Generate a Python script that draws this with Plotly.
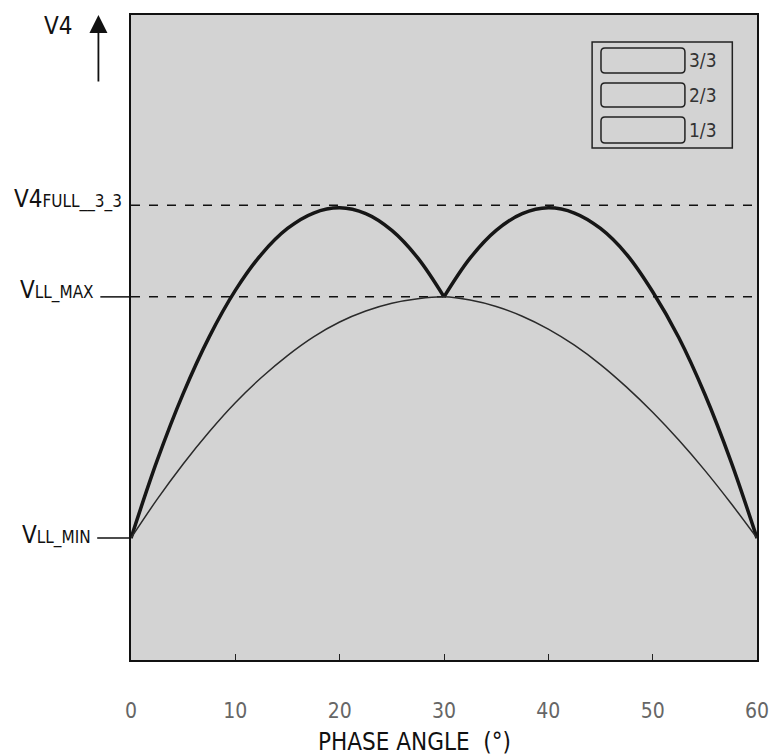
import plotly.graph_objects as go

# ---- data ----
phase_angle = [0, 2.5, 5, 7.5, 10, 12.5, 15, 17.5, 20, 22.5, 25, 27.5, 30,
               32.5, 35, 37.5, 40, 42.5, 45, 47.5, 50, 52.5, 55, 57.5, 60]
v4_3_3 = [18.9, 30.9, 41.3, 50.1, 57.3, 62.9, 66.9, 69.3, 70.1, 69.2, 66.6, 62.3, 56.3,
          62.3, 66.6, 69.2, 70.1, 69.3, 66.9, 62.9, 57.1, 50.0, 41.2, 30.8, 18.9]
v4_1_3 = [18.9, 24.9, 30.4, 35.4, 39.9, 43.8, 47.2, 50.1, 52.4, 54.1, 55.3, 56.0, 56.3,
          55.8, 54.8, 53.3, 51.3, 48.8, 45.8, 42.3, 38.4, 34.1, 29.4, 24.3, 18.9]

V4_FULL = 70.5
VLL_MAX = 56.3
VLL_MIN = 18.9

x_ticks = [0, 10, 20, 30, 40, 50, 60]
legend_labels = ["3/3", "2/3", "1/3"]

NARROW = "Liberation Sans Narrow, DejaVu Sans Condensed, Arial Narrow, sans-serif"
BG = "#d3d3d3"

fig = go.Figure()

# split at 30 deg to keep the sharp cusp
mid = phase_angle.index(30)
thick = dict(color="#161616", width=3.5, shape="spline", smoothing=1.0)
fig.add_trace(go.Scatter(x=phase_angle[:mid + 1], y=v4_3_3[:mid + 1], mode="lines",
                         line=thick, name="3/3", showlegend=False))
fig.add_trace(go.Scatter(x=phase_angle[mid:], y=v4_3_3[mid:], mode="lines",
                         line=thick, name="3/3", showlegend=False))
fig.add_trace(go.Scatter(x=phase_angle, y=v4_1_3, mode="lines",
                         line=dict(color="#2a2a2a", width=1.5, shape="spline", smoothing=1.0),
                         name="1/3", showlegend=False))

shapes = []
# dashed reference lines
for yv in (V4_FULL, VLL_MAX):
    shapes.append(dict(type="line", xref="paper", yref="y", x0=0, x1=1, y0=yv, y1=yv,
                       line=dict(color="#111", width=1.5, dash="dash"), layer="below"))
# outside tick stubs for VLL levels
shapes.append(dict(type="line", xref="paper", yref="y", x0=-0.049, x1=0, y0=VLL_MAX, y1=VLL_MAX,
                   line=dict(color="#111", width=1.5)))
shapes.append(dict(type="line", xref="paper", yref="y", x0=-0.054, x1=0, y0=VLL_MIN, y1=VLL_MIN,
                   line=dict(color="#111", width=1.5)))

# custom legend box (pixel helpers)
W, H = 634.0, 645.0
def px(xp):
    return (xp - 131) / W
def py(yp):
    return (660 - yp) / H

def rounded(x0, y0, x1, y1, r=4):
    # pixel rect -> rounded path in paper coords
    X0, X1 = px(x0), px(x1)
    Y0, Y1 = py(y1), py(y0)
    rx, ry = r / W, r / H
    return (f"M {X0+rx},{Y0} L {X1-rx},{Y0} Q {X1},{Y0} {X1},{Y0+ry} "
            f"L {X1},{Y1-ry} Q {X1},{Y1} {X1-rx},{Y1} L {X0+rx},{Y1} "
            f"Q {X0},{Y1} {X0},{Y1-ry} L {X0},{Y0+ry} Q {X0},{Y0} {X0+rx},{Y0} Z")

shapes.append(dict(type="rect", xref="paper", yref="paper", x0=px(598), x1=px(740),
                   y0=py(148), y1=py(42), line=dict(color="#222", width=1.5), fillcolor=BG))
box_rows = [(48, 73), (83, 107), (117, 143)]
annotations = []
for (t, b), lab in zip(box_rows, legend_labels):
    shapes.append(dict(type="path", xref="paper", yref="paper", path=rounded(607, t, 692, b),
                       line=dict(color="#222", width=1.5), fillcolor=BG))
    annotations.append(dict(xref="paper", yref="paper", x=px(694), y=py((t + b) / 2),
                            text=lab, showarrow=False, xanchor="left", yanchor="middle",
                            font=dict(family=NARROW, size=19, color="#333")))

# y-level labels
def lab(main, sub):
    return f"{main}<span style='font-size:17px'>{sub}</span>"

annotations.append(dict(xref="paper", yref="y", x=px(124), y=V4_FULL + 0.9, text=lab("V4", "FULL__3_3"),
                        showarrow=False, xanchor="right", yanchor="middle",
                        font=dict(family=NARROW, size=24, color="#111")))
annotations.append(dict(xref="paper", yref="y", x=px(96), y=VLL_MAX + 1.0, text=lab("V", "LL_MAX"),
                        showarrow=False, xanchor="right", yanchor="middle",
                        font=dict(family=NARROW, size=24, color="#111")))
annotations.append(dict(xref="paper", yref="y", x=px(93), y=VLL_MIN + 0.5, text=lab("V", "LL_MIN"),
                        showarrow=False, xanchor="right", yanchor="middle",
                        font=dict(family=NARROW, size=24, color="#111")))

# V4 arrow
annotations.append(dict(xref="paper", yref="paper", x=px(98), y=py(15), ax=0, ay=68,
                        text="", showarrow=True, arrowhead=2, arrowsize=2.0, arrowwidth=1.8,
                        arrowcolor="#111"))
annotations.append(dict(xref="paper", yref="paper", x=px(58), y=py(26), text="V4",
                        showarrow=False, xanchor="center", yanchor="middle",
                        font=dict(family=NARROW, size=24, color="#111")))
# x-axis title
annotations.append(dict(xref="paper", yref="paper", x=px(418), y=py(742), text="PHASE ANGLE  (°)",
                        showarrow=False, xanchor="center", yanchor="middle",
                        font=dict(family=NARROW, size=24, color="#111")))

fig.update_layout(
    width=781, height=756,
    margin=dict(l=131, r=16, t=15, b=96),
    paper_bgcolor="white",
    plot_bgcolor=BG,
    shapes=shapes,
    annotations=annotations,
    showlegend=False,
    xaxis=dict(range=[0, 60], tickvals=x_ticks, ticktext=[str(v) for v in x_ticks],
               ticks="inside", ticklen=6, tickcolor="#222", showgrid=False, zeroline=False,
               showline=True, linecolor="#111", linewidth=2, mirror=True,
               ticklabelstandoff=31,
               tickfont=dict(family=NARROW, size=21, color="#666")),
    yaxis=dict(range=[0, 100], showticklabels=False, ticks="", showgrid=False, zeroline=False,
               showline=True, linecolor="#111", linewidth=2, mirror=True),
)

fig.write_html("out.html")
